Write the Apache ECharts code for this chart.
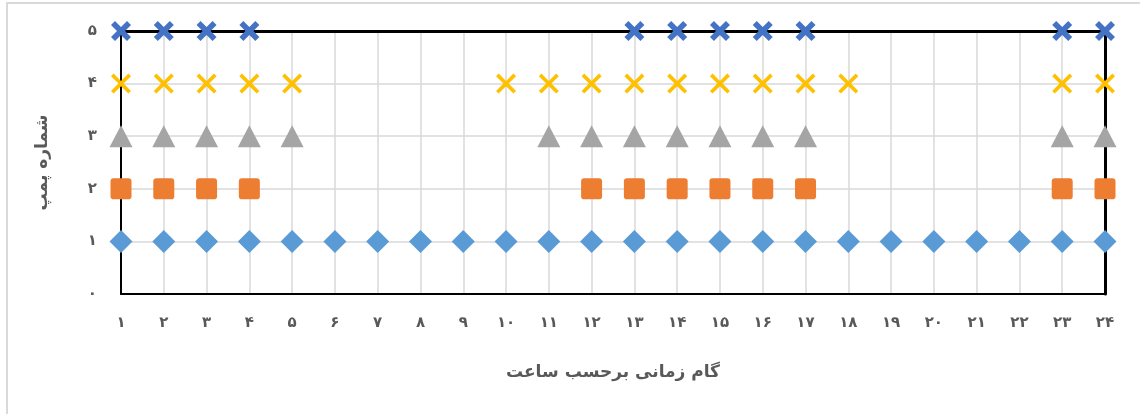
<!DOCTYPE html>
<html>
<head>
<meta charset="utf-8">
<script src="https://cdn.jsdelivr.net/npm/echarts@6/dist/echarts.min.js"></script>
<style>
  html, body { margin: 0; padding: 0; background: #fff; }
  #chart { width: 1140px; height: 414px; }
</style>
</head>
<body>
<div id="chart"></div>
<script>
// Hours of the day (x) and pump numbers (y)
const hours = [1,2,3,4,5,6,7,8,9,10,11,12,13,14,15,16,17,18,19,20,21,22,23,24];
const hourLabels = ['۱','۲','۳','۴','۵','۶','۷','۸','۹','۱۰','۱۱','۱۲','۱۳','۱۴','۱۵','۱۶','۱۷','۱۸','۱۹','۲۰','۲۱','۲۲','۲۳','۲۴'];
const pumpLabels = ['۰','۱','۲','۳','۴','۵'];

// Hours during which each pump is running
const pump1Hours = [1,2,3,4,5,6,7,8,9,10,11,12,13,14,15,16,17,18,19,20,21,22,23,24];
const pump2Hours = [1,2,3,4,12,13,14,15,16,17,23,24];
const pump3Hours = [1,2,3,4,5,11,12,13,14,15,16,17,23,24];
const pump4Hours = [1,2,3,4,5,10,11,12,13,14,15,16,17,18,23,24];
const pump5Hours = [1,2,3,4,13,14,15,16,17,23,24];

const xAxisTitle = 'گام زمانی برحسب ساعت';
const yAxisTitle = 'شماره پمپ';

const thinX = 'path://M0,2.6L2.6,0L10,7.4L17.4,0L20,2.6L12.6,10L20,17.4L17.4,20L10,12.6L2.6,20L0,17.4L7.4,10Z';
const boldX = 'path://M0,4L4,0L10,6L16,0L20,4L14,10L20,16L16,20L10,14L4,20L0,16L6,10Z';
const softSquare = 'path://M3,0H17Q20,0 20,3V17Q20,20 17,20H3Q0,20 0,17V3Q0,0 3,0Z';

function points(hs, pump) { return hs.map(h => [h, pump]); }

const font = 'DejaVu Sans';
const chart = echarts.init(document.getElementById('chart'));

chart.setOption({
  animation: false,
  backgroundColor: '#fff',
  textStyle: { fontFamily: font },
  grid: { left: 121, right: 35, top: 31, bottom: 120 },
  graphic: [{
    type: 'rect', silent: true, z: -10,
    shape: { x: 7, y: 3, width: 1200, height: 500 },
    style: { fill: 'none', stroke: '#d9d9d9', lineWidth: 2 }
  }],
  xAxis: [{
    type: 'value', min: 1, max: 24, interval: 1,
    name: xAxisTitle, nameLocation: 'middle', nameGap: 70,
    nameTextStyle: { fontFamily: font, fontSize: 17, fontWeight: 'bold', color: '#595959' },
    axisLine: { show: true, onZero: false, lineStyle: { color: '#000', width: 2 } },
    axisTick: { show: false },
    axisLabel: { margin: 22, fontSize: 15, fontWeight: 'bold', color: '#595959',
      formatter: v => hourLabels[hours.indexOf(v)] || '' },
    splitLine: { show: true, lineStyle: { color: '#d9d9d9', width: 1.5 } }
  }, {
    type: 'value', min: 1, max: 24, position: 'top',
    axisLine: { show: true, onZero: false, lineStyle: { color: '#000', width: 3 } },
    axisTick: { show: false }, axisLabel: { show: false }, splitLine: { show: false }
  }],
  yAxis: [{
    type: 'value', min: 0, max: 5, interval: 1,
    name: yAxisTitle, nameLocation: 'middle', nameGap: 70, nameRotate: 90,
    nameTextStyle: { fontFamily: font, fontSize: 17, fontWeight: 'bold', color: '#595959' },
    axisLine: { show: true, onZero: false, lineStyle: { color: '#000', width: 2 } },
    axisTick: { show: false },
    axisLabel: { margin: 24, fontSize: 15, fontWeight: 'bold', color: '#595959',
      formatter: v => pumpLabels[v] },
    splitLine: { show: true, lineStyle: { color: '#d9d9d9', width: 1.5 } }
  }, {
    type: 'value', min: 0, max: 5, position: 'right',
    axisLine: { show: true, onZero: false, lineStyle: { color: '#000', width: 3 } },
    axisTick: { show: false }, axisLabel: { show: false }, splitLine: { show: false }
  }],
  series: [
    { name: 'پمپ ۱', type: 'scatter', data: points(pump1Hours, 1), symbol: 'diamond', symbolSize: 23,
      itemStyle: { color: '#5b9bd5', opacity: 1 }, z: 5 },
    { name: 'پمپ ۲', type: 'scatter', data: points(pump2Hours, 2), symbol: softSquare, symbolSize: 21,
      itemStyle: { color: '#ed7d31', opacity: 1 }, z: 5 },
    { name: 'پمپ ۳', type: 'scatter', data: points(pump3Hours, 3), symbol: 'triangle', symbolSize: [23, 22],
      itemStyle: { color: '#a5a5a5', opacity: 1 }, z: 5 },
    { name: 'پمپ ۴', type: 'scatter', data: points(pump4Hours, 4), symbol: thinX, symbolSize: 20,
      itemStyle: { color: '#ffc000', opacity: 1 }, z: 5 },
    { name: 'پمپ ۵', type: 'scatter', data: points(pump5Hours, 5), symbol: boldX, symbolSize: 20,
      itemStyle: { color: '#4472c4', opacity: 1 }, z: 5 }
  ]
});
</script>
</body>
</html>
